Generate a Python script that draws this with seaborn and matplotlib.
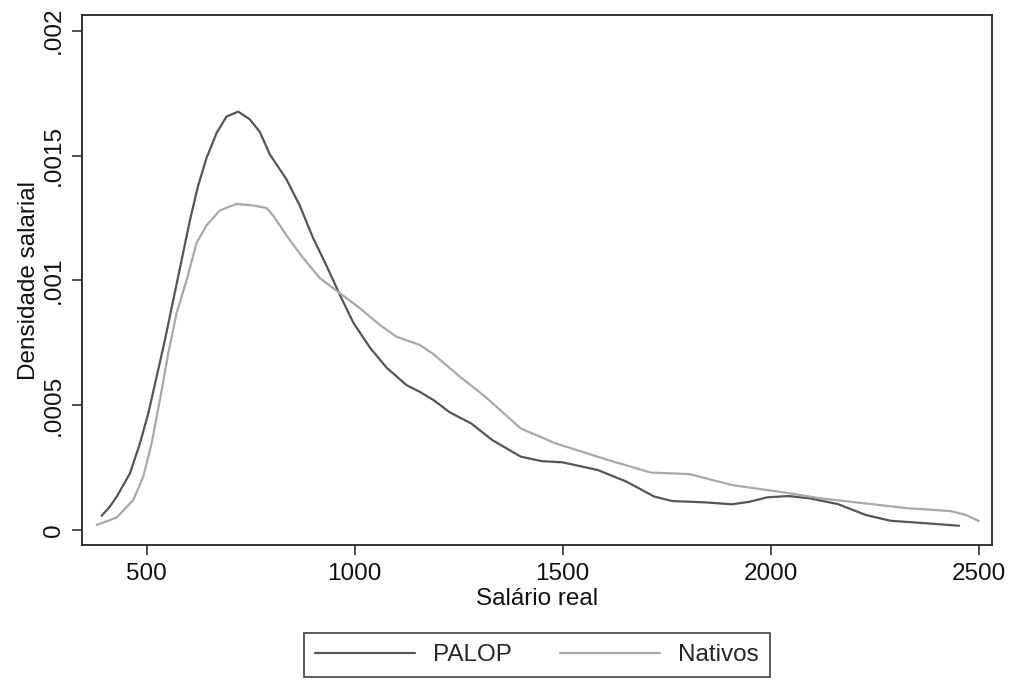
import matplotlib
matplotlib.use("Agg")
import matplotlib.pyplot as plt
from matplotlib.lines import Line2D
import seaborn as sns
import pandas as pd

# PALOP density curve
palop_x = [392, 410, 428, 460, 484, 504, 524, 544, 564, 584, 604, 624, 644, 668, 692,
           720, 748, 772, 796, 836, 868, 900, 932, 965, 997, 1037, 1077, 1125, 1157,
           1190, 1229, 1280, 1331, 1399, 1449, 1500, 1585, 1653, 1720, 1763, 1839,
           1907, 1949, 1992, 2042, 2093, 2161, 2229, 2288, 2373, 2453]
palop_y = [0.000057, 0.00009, 0.000133, 0.000227, 0.000347, 0.000467, 0.000614,
           0.000761, 0.000921, 0.00108, 0.00124, 0.00138, 0.00149, 0.00159, 0.001656,
           0.001676, 0.001645, 0.001595, 0.001505, 0.001405, 0.0013, 0.00117, 0.00106,
           0.00094, 0.00083, 0.00073, 0.00065, 0.00058, 0.000553, 0.00052, 0.000471,
           0.000427, 0.00036, 0.000294, 0.000276, 0.000271, 0.00024, 0.000194,
           0.000134, 0.000116, 0.000111, 0.000103, 0.000113, 0.000131, 0.000136,
           0.000127, 0.000104, 0.00006, 0.000037, 0.000027, 0.000017]

# Nativos density curve
nat_x = [380, 428, 468, 492, 512, 532, 552, 572, 596, 620, 644, 676, 716, 756, 788,
         804, 836, 876, 917, 965, 1013, 1061, 1101, 1157, 1189, 1229, 1253, 1314,
         1399, 1483, 1610, 1712, 1805, 1907, 2034, 2119, 2246, 2331, 2432, 2470, 2500]
nat_y = [0.00002, 0.00005, 0.00012, 0.000214, 0.000347, 0.000521, 0.000708, 0.000868,
         0.001, 0.00115, 0.00122, 0.00128, 0.001306, 0.0013, 0.00129, 0.00126,
         0.00118, 0.00109, 0.001008, 0.000948, 0.000888, 0.000821, 0.000774,
         0.000741, 0.000705, 0.000648, 0.000614, 0.000534, 0.000407, 0.000347,
         0.00028, 0.00023, 0.000224, 0.00018, 0.00015, 0.000127, 0.000103, 0.000087,
         0.000076, 0.00006, 0.000036]

series_names = ["PALOP", "Nativos"]
x_ticks = [500, 1000, 1500, 2000, 2500]
y_ticks = [0, 0.0005, 0.001, 0.0015, 0.002]
y_tick_labels = ["0", ".0005", ".001", ".0015", ".002"]

df = pd.concat([
    pd.DataFrame({"x": palop_x, "y": palop_y, "grupo": series_names[0]}),
    pd.DataFrame({"x": nat_x, "y": nat_y, "grupo": series_names[1]}),
], ignore_index=True)

colors = {"PALOP": "#555555", "Nativos": "#a8a8a8"}

sns.set_style("ticks")
plt.rcParams["font.family"] = ["Liberation Sans", "DejaVu Sans"]
plt.rcParams["lines.solid_joinstyle"] = "round"

fig = plt.figure(figsize=(10.10, 6.81), dpi=100)
ax = fig.add_axes([0.0809, 0.199, 0.9013, 0.779])

sns.lineplot(data=df, x="x", y="y", hue="grupo", sort=False,
             palette=colors, linewidth=1.6, ax=ax, legend=False)

ax.set_xlim(344, 2532)
ax.set_ylim(-0.000062, 0.002063)
ax.set_xticks(x_ticks)
ax.set_xticklabels([str(v) for v in x_ticks])
ax.set_yticks(y_ticks)
ax.set_yticklabels(y_tick_labels, rotation=90, va="center", ha="right")

for s in ax.spines.values():
    s.set_visible(True)
    s.set_color("#222222")
    s.set_linewidth(1.3)

ax.tick_params(axis="both", direction="out", length=7.5, width=1.1, color="#222222",
               labelsize=17.5, labelcolor="#111111")
ax.tick_params(axis="x", pad=5)
ax.tick_params(axis="y", pad=4.5)

ax.set_xlabel("Salário real", fontsize=17.5, color="#111111", labelpad=2)
ax.set_ylabel("Densidade salarial", fontsize=17.5, color="#111111", labelpad=2)

handles = [Line2D([], [], color=colors[n], lw=1.6) for n in series_names]
leg = ax.legend(handles, series_names, loc="center", bbox_to_anchor=(0.5, -0.207),
                ncol=2, frameon=True, fancybox=False, fontsize=17.5,
                handlelength=4.1, handletextpad=0.75, columnspacing=2.0,
                borderpad=0.45)
leg.get_frame().set_edgecolor("#222222")
leg.get_frame().set_linewidth(1.3)

fig.savefig("out.png", dpi=100)
